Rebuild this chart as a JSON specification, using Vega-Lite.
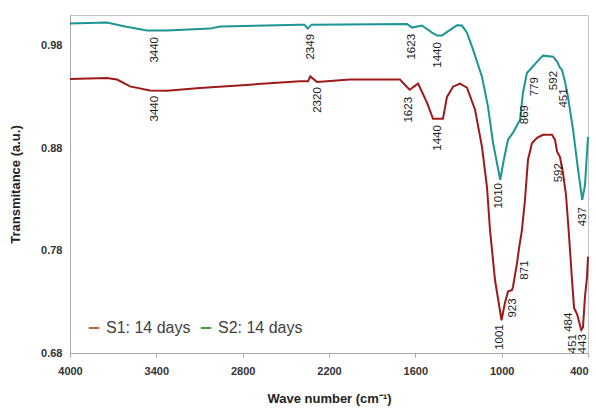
{
  "$schema": "https://vega.github.io/schema/vega-lite/v6.json",
  "width": 518,
  "height": 338,
  "autosize": {"type": "none"},
  "padding": {"left": 70, "top": 15, "right": 8, "bottom": 55},
  "background": "white",
  "config": {
    "view": {"stroke": "#c4c4c4", "strokeWidth": 1},
    "font": "Liberation Sans",
    "axis": {"grid": false, "labelFlush": false, "domainColor": "#a6a6a6", "tickColor": "#a6a6a6", "labelFont": "Liberation Sans", "titleFont": "Liberation Sans", "labelFontWeight": "bold", "labelFontSize": 11, "labelColor": "#333333", "titleFontWeight": "bold", "titleFontSize": 13, "titleColor": "#222222"}
  },
  "datasets": {
    "spectra": [
      {"series": "S2: 14 days", "wn": 4000, "t": 1.0016},
      {"series": "S2: 14 days", "wn": 3743, "t": 1.0026},
      {"series": "S2: 14 days", "wn": 3618, "t": 0.9987},
      {"series": "S2: 14 days", "wn": 3465, "t": 0.9948},
      {"series": "S2: 14 days", "wn": 3326, "t": 0.9948},
      {"series": "S2: 14 days", "wn": 3027, "t": 0.9967},
      {"series": "S2: 14 days", "wn": 2957, "t": 0.9987},
      {"series": "S2: 14 days", "wn": 2401, "t": 1.0006},
      {"series": "S2: 14 days", "wn": 2370, "t": 1.0006},
      {"series": "S2: 14 days", "wn": 2349, "t": 0.9967},
      {"series": "S2: 14 days", "wn": 2320, "t": 1.0006},
      {"series": "S2: 14 days", "wn": 1658, "t": 1.0013},
      {"series": "S2: 14 days", "wn": 1623, "t": 0.9977},
      {"series": "S2: 14 days", "wn": 1554, "t": 0.9997},
      {"series": "S2: 14 days", "wn": 1484, "t": 0.9928},
      {"series": "S2: 14 days", "wn": 1449, "t": 0.9899},
      {"series": "S2: 14 days", "wn": 1415, "t": 0.9899},
      {"series": "S2: 14 days", "wn": 1366, "t": 0.9948},
      {"series": "S2: 14 days", "wn": 1310, "t": 1.0},
      {"series": "S2: 14 days", "wn": 1276, "t": 0.9997},
      {"series": "S2: 14 days", "wn": 1241, "t": 0.9928},
      {"series": "S2: 14 days", "wn": 1199, "t": 0.9762},
      {"series": "S2: 14 days", "wn": 1137, "t": 0.9498},
      {"series": "S2: 14 days", "wn": 1095, "t": 0.9205},
      {"series": "S2: 14 days", "wn": 1060, "t": 0.8853},
      {"series": "S2: 14 days", "wn": 1010, "t": 0.8491},
      {"series": "S2: 14 days", "wn": 985, "t": 0.8687},
      {"series": "S2: 14 days", "wn": 956, "t": 0.8882},
      {"series": "S2: 14 days", "wn": 921, "t": 0.8951},
      {"series": "S2: 14 days", "wn": 872, "t": 0.9078},
      {"series": "S2: 14 days", "wn": 852, "t": 0.9342},
      {"series": "S2: 14 days", "wn": 824, "t": 0.9537},
      {"series": "S2: 14 days", "wn": 803, "t": 0.9566},
      {"series": "S2: 14 days", "wn": 754, "t": 0.9645},
      {"series": "S2: 14 days", "wn": 713, "t": 0.9703},
      {"series": "S2: 14 days", "wn": 643, "t": 0.9693},
      {"series": "S2: 14 days", "wn": 615, "t": 0.9645},
      {"series": "S2: 14 days", "wn": 595, "t": 0.9586},
      {"series": "S2: 14 days", "wn": 581, "t": 0.9566},
      {"series": "S2: 14 days", "wn": 560, "t": 0.9449},
      {"series": "S2: 14 days", "wn": 539, "t": 0.9302},
      {"series": "S2: 14 days", "wn": 504, "t": 0.898},
      {"series": "S2: 14 days", "wn": 469, "t": 0.8589},
      {"series": "S2: 14 days", "wn": 440, "t": 0.8296},
      {"series": "S2: 14 days", "wn": 421, "t": 0.844},
      {"series": "S2: 14 days", "wn": 400, "t": 0.891},
      {"series": "S1: 14 days", "wn": 4000, "t": 0.9475},
      {"series": "S1: 14 days", "wn": 3743, "t": 0.9485},
      {"series": "S1: 14 days", "wn": 3673, "t": 0.947},
      {"series": "S1: 14 days", "wn": 3583, "t": 0.9403},
      {"series": "S1: 14 days", "wn": 3444, "t": 0.9364},
      {"series": "S1: 14 days", "wn": 3326, "t": 0.9361},
      {"series": "S1: 14 days", "wn": 3096, "t": 0.9387},
      {"series": "S1: 14 days", "wn": 2749, "t": 0.942},
      {"series": "S1: 14 days", "wn": 2401, "t": 0.9454},
      {"series": "S1: 14 days", "wn": 2345, "t": 0.9454},
      {"series": "S1: 14 days", "wn": 2330, "t": 0.95},
      {"series": "S1: 14 days", "wn": 2283, "t": 0.9446},
      {"series": "S1: 14 days", "wn": 2054, "t": 0.947},
      {"series": "S1: 14 days", "wn": 1707, "t": 0.947},
      {"series": "S1: 14 days", "wn": 1640, "t": 0.937},
      {"series": "S1: 14 days", "wn": 1581, "t": 0.943},
      {"series": "S1: 14 days", "wn": 1519, "t": 0.9244},
      {"series": "S1: 14 days", "wn": 1477, "t": 0.9087},
      {"series": "S1: 14 days", "wn": 1408, "t": 0.9087},
      {"series": "S1: 14 days", "wn": 1380, "t": 0.93},
      {"series": "S1: 14 days", "wn": 1338, "t": 0.94},
      {"series": "S1: 14 days", "wn": 1290, "t": 0.943},
      {"series": "S1: 14 days", "wn": 1241, "t": 0.939},
      {"series": "S1: 14 days", "wn": 1185, "t": 0.9175},
      {"series": "S1: 14 days", "wn": 1137, "t": 0.8814},
      {"series": "S1: 14 days", "wn": 1102, "t": 0.842},
      {"series": "S1: 14 days", "wn": 1081, "t": 0.8},
      {"series": "S1: 14 days", "wn": 1046, "t": 0.751},
      {"series": "S1: 14 days", "wn": 1001, "t": 0.712},
      {"series": "S1: 14 days", "wn": 977, "t": 0.729},
      {"series": "S1: 14 days", "wn": 956, "t": 0.74},
      {"series": "S1: 14 days", "wn": 928, "t": 0.7416},
      {"series": "S1: 14 days", "wn": 921, "t": 0.745},
      {"series": "S1: 14 days", "wn": 893, "t": 0.768},
      {"series": "S1: 14 days", "wn": 879, "t": 0.7826},
      {"series": "S1: 14 days", "wn": 859, "t": 0.8},
      {"series": "S1: 14 days", "wn": 838, "t": 0.8296},
      {"series": "S1: 14 days", "wn": 817, "t": 0.8687},
      {"series": "S1: 14 days", "wn": 789, "t": 0.885},
      {"series": "S1: 14 days", "wn": 754, "t": 0.89},
      {"series": "S1: 14 days", "wn": 713, "t": 0.893},
      {"series": "S1: 14 days", "wn": 650, "t": 0.893},
      {"series": "S1: 14 days", "wn": 629, "t": 0.888},
      {"series": "S1: 14 days", "wn": 615, "t": 0.8765},
      {"series": "S1: 14 days", "wn": 595, "t": 0.8716},
      {"series": "S1: 14 days", "wn": 574, "t": 0.856},
      {"series": "S1: 14 days", "wn": 553, "t": 0.8345},
      {"series": "S1: 14 days", "wn": 532, "t": 0.795},
      {"series": "S1: 14 days", "wn": 511, "t": 0.751},
      {"series": "S1: 14 days", "wn": 497, "t": 0.724},
      {"series": "S1: 14 days", "wn": 476, "t": 0.718},
      {"series": "S1: 14 days", "wn": 447, "t": 0.7025},
      {"series": "S1: 14 days", "wn": 435, "t": 0.705},
      {"series": "S1: 14 days", "wn": 421, "t": 0.735},
      {"series": "S1: 14 days", "wn": 407, "t": 0.754},
      {"series": "S1: 14 days", "wn": 400, "t": 0.774}
    ],
    "labels": [
      {"label": "3440", "wn": 3410, "t": 0.976},
      {"label": "2349", "wn": 2325, "t": 0.979},
      {"label": "1623", "wn": 1623, "t": 0.979},
      {"label": "1440", "wn": 1442, "t": 0.971},
      {"label": "1010", "wn": 1018, "t": 0.8335},
      {"label": "869", "wn": 838, "t": 0.9127},
      {"label": "779", "wn": 768, "t": 0.94},
      {"label": "592", "wn": 636, "t": 0.946},
      {"label": "451", "wn": 567, "t": 0.929},
      {"label": "437", "wn": 435, "t": 0.813},
      {"label": "3440", "wn": 3409, "t": 0.9185},
      {"label": "2320", "wn": 2276, "t": 0.927},
      {"label": "1623", "wn": 1644, "t": 0.9175},
      {"label": "1440", "wn": 1442, "t": 0.89},
      {"label": "592", "wn": 601, "t": 0.856},
      {"label": "1001", "wn": 1011, "t": 0.6956},
      {"label": "923", "wn": 921, "t": 0.724},
      {"label": "871", "wn": 838, "t": 0.761},
      {"label": "484", "wn": 532, "t": 0.71},
      {"label": "451", "wn": 504, "t": 0.689},
      {"label": "443", "wn": 435, "t": 0.689}
    ]
  },
  "layer": [
    {
      "data": {"name": "spectra"},
      "mark": {"type": "line", "strokeWidth": 2, "opacity": 0},
      "encoding": {
        "x": {"field": "wn", "type": "quantitative", "scale": {"domain": [400, 4000], "reverse": true, "nice": false, "zero": false}, "axis": {"values": [4000, 3400, 2800, 2200, 1600, 1000, 400], "format": "d", "title": "Wave number (cm⁻¹)", "tickSize": 4, "labelPadding": 8, "titlePadding": 16, "labelAlign": {"condition": {"test": "datum.value == 400", "value": "right"}, "value": "center"}}},
        "y": {"field": "t", "type": "quantitative", "scale": {"domain": [0.68, 1.01], "nice": false, "zero": false}, "axis": {"values": [0.68, 0.78, 0.88, 0.98], "format": ".2f", "title": "Transmitance (a.u.)", "ticks": false, "labelPadding": 8, "titlePadding": 18}},
        "color": {"field": "series", "type": "nominal", "scale": {"domain": ["S1: 14 days", "S2: 14 days"], "range": ["#c8643c", "#3da03d"]}, "legend": {"orient": "none", "legendX": 16, "legendY": 305, "direction": "horizontal", "title": null, "symbolType": "stroke", "symbolSize": 110, "symbolStrokeWidth": 2, "symbolOpacity": 1, "labelFontSize": 16, "labelColor": "#404040", "labelFont": "Liberation Sans", "columnPadding": 5, "labelOffset": 4}}
      }
    },
    {
      "data": {"name": "spectra"},
      "mark": {"type": "line", "strokeWidth": 2},
      "encoding": {
        "x": {"field": "wn", "type": "quantitative"},
        "y": {"field": "t", "type": "quantitative"},
        "detail": {"field": "series", "type": "nominal"},
        "stroke": {"field": "series", "type": "nominal", "scale": {"domain": ["S1: 14 days", "S2: 14 days"], "range": ["#9e1a1a", "#1b9595"]}, "legend": null}
      }
    },
    {
      "data": {"name": "labels"},
      "mark": {"type": "text", "angle": 270, "align": "center", "baseline": "middle", "fontSize": 11.5, "font": "Liberation Sans", "color": "#1a1a1a"},
      "encoding": {
        "x": {"field": "wn", "type": "quantitative"},
        "y": {"field": "t", "type": "quantitative"},
        "text": {"field": "label", "type": "nominal"}
      }
    }
  ]
}
